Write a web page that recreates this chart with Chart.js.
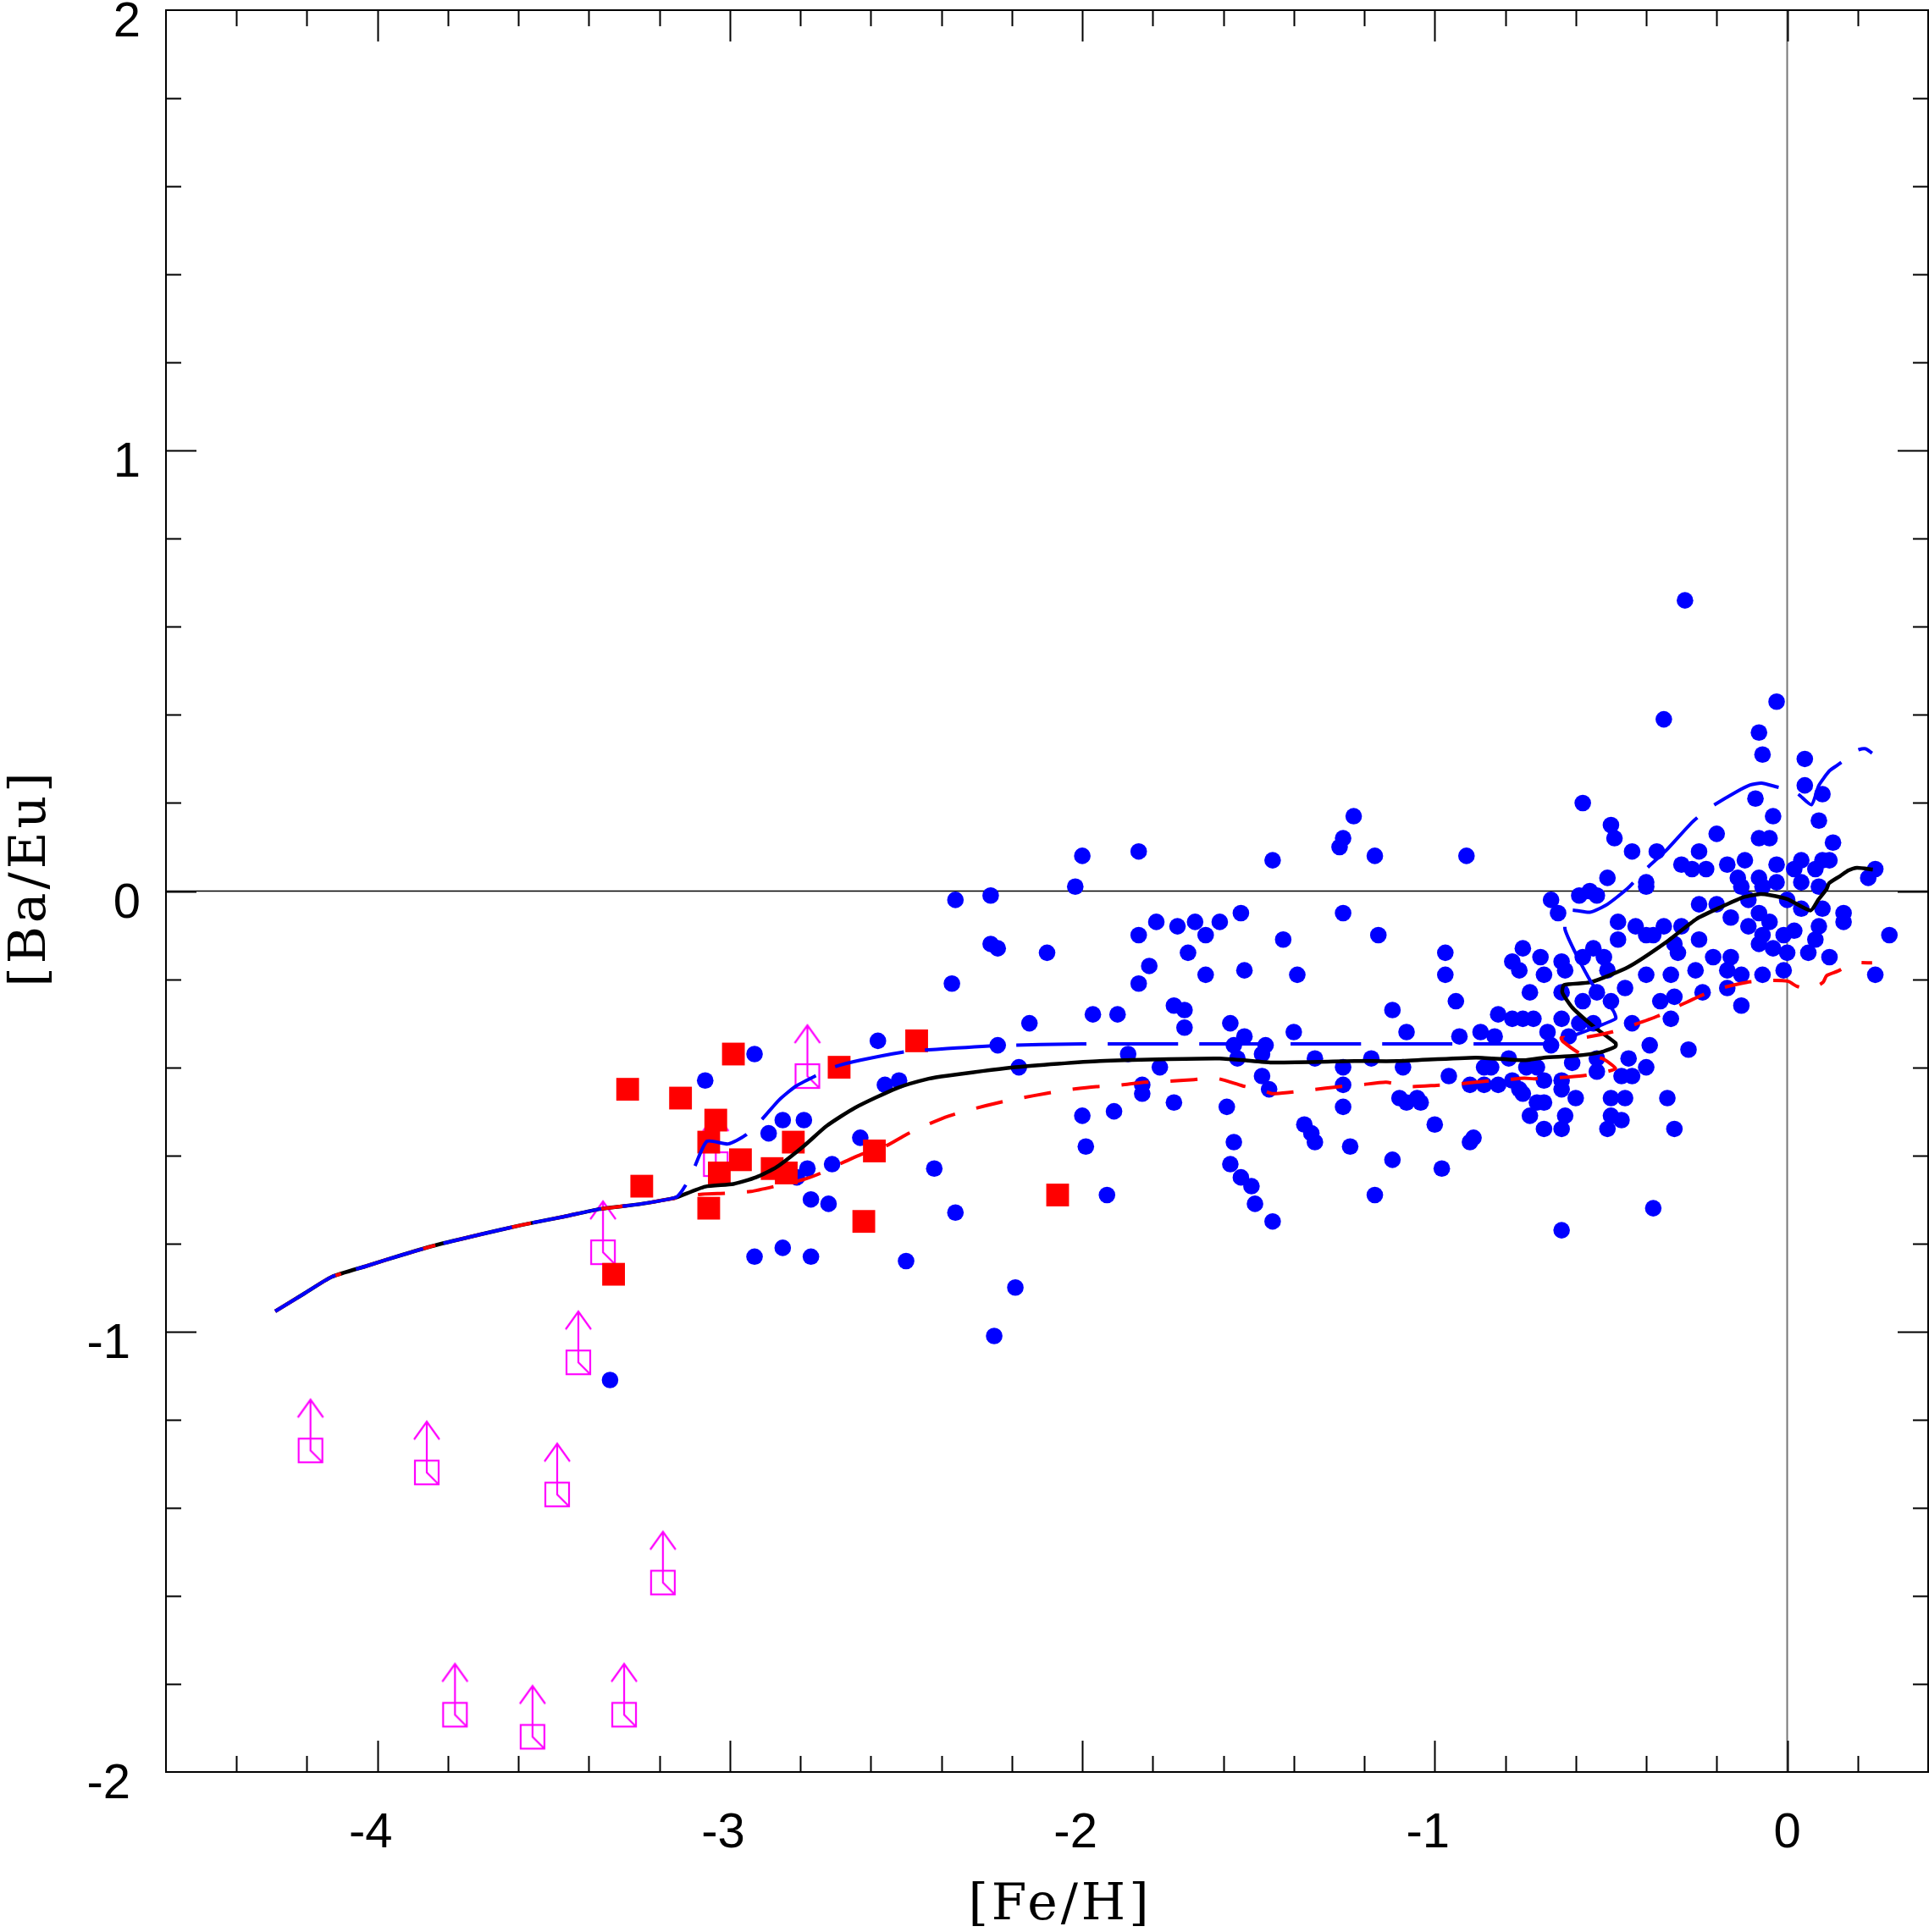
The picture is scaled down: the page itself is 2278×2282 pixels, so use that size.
<!DOCTYPE html>
<html lang="en">

<head>
    <meta charset="UTF-8">
    <title>[Ba/Eu] vs [Fe/H]</title>
    <script src="https://cdn.jsdelivr.net/npm/chart.js"></script>
    <style>
        html, body { margin: 0; padding: 0; background: #fff; }
        canvas { display: block; }
    </style>
</head>

<body>
    <canvas id="baEuChart" width="2278" height="2282"></canvas>

    <script>
        // axes
        const xMin = -4.6, xMax = 0.4;
        const yMin = -2, yMax = 2;
        const xTickValues = [-4, -3, -2, -1, 0];
        const xTickLabels = ['-4', '-3', '-2', '-1', '0'];
        const yTickValues = [-2, -1, 0, 1, 2];
        const yTickLabels = ['-2', '-1', '0', '1', '2'];
        const minorStep = 0.2;
        const xTitle = '[Fe/H]';
        const yTitle = '[Ba/Eu]';

        // observed stars [Fe/H, Ba/Eu]
        const blueStars = [
            [-0.29, 0.66], [-0.03, 0.43], [-0.35, 0.39], [-0.08, 0.36], [-0.07, 0.31], [0.05, 0.30], [-0.58, 0.20],
            [0.05, 0.24], [0.10, 0.22], [-0.09, 0.21], [-0.50, 0.15], [-0.04, 0.17], [0.09, 0.16], [-0.49, 0.12],
            [-0.20, 0.13], [-0.08, 0.12], [-0.05, 0.12], [0.13, 0.11], [-0.44, 0.09], [-0.37, 0.09], [-0.25, 0.09],
            [-0.30, 0.06], [-0.27, 0.05], [-0.23, 0.05], [-0.17, 0.06], [-0.12, 0.07], [-0.03, 0.06], [0.04, 0.07],
            [0.10, 0.07], [0.08, 0.05], [0.12, 0.07], [0.02, 0.05], [0.04, 0.02], [-0.51, 0.03], [-0.40, 0.02],
            [-0.40, 0.01], [-0.14, 0.03], [-0.08, 0.03], [-0.03, 0.02], [0.09, 0.01], [0.25, 0.05], [0.23, 0.03],
            [-0.67, -0.02], [-0.65, -0.05], [-0.59, -0.01], [-0.56, 0.00], [-0.54, -0.01], [-0.13, 0.01], [-0.07, 0.01],
            [-0.11, -0.02], [-0.25, -0.03], [-0.20, -0.03], [0.00, -0.02], [0.04, -0.04], [0.10, -0.04], [0.16, -0.05],
            [-0.16, -0.06], [-0.08, -0.05], [-0.48, -0.07], [-0.43, -0.08], [-0.40, -0.10], [-0.38, -0.10], [-0.35, -0.08],
            [-0.30, -0.08], [-0.05, -0.07], [-0.11, -0.08], [0.02, -0.09], [-0.01, -0.10], [0.09, -0.08], [0.16, -0.07],
            [0.29, -0.10], [-0.48, -0.11], [-0.32, -0.12], [-0.25, -0.11], [-0.07, -0.10], [-0.08, -0.12], [0.08, -0.11],
            [-0.75, -0.13], [-0.55, -0.13], [-0.58, -0.15], [-0.52, -0.15], [-0.31, -0.14], [-0.04, -0.13], [0.00, -0.14],
            [0.06, -0.14], [0.12, -0.15], [-0.70, -0.15], [-0.64, -0.16], [-0.21, -0.15], [-0.16, -0.15], [-0.76, -0.18],
            [-0.69, -0.19], [-0.63, -0.18], [-0.51, -0.18], [-0.40, -0.19], [-0.33, -0.19], [-0.26, -0.18], [-0.17, -0.18],
            [-0.13, -0.19], [-0.07, -0.19], [-0.01, -0.18], [0.25, -0.19],
            [-0.73, -0.23], [-0.64, -0.23], [-0.54, -0.23], [-0.46, -0.22], [-0.58, -0.25], [-0.50, -0.25], [-0.36, -0.25],
            [-0.32, -0.24], [-0.24, -0.23], [-0.17, -0.22], [-0.13, -0.26], [-0.75, -0.29], [-0.72, -0.29], [-0.64, -0.29],
            [-0.59, -0.30], [-0.55, -0.30], [-0.44, -0.30], [-0.33, -0.29], [-0.68, -0.32], [-0.62, -0.33], [-0.67, -0.35],
            [-0.39, -0.35], [-0.28, -0.36], [-0.45, -0.38], [-0.54, -0.38], [-0.74, -0.40], [-0.71, -0.40], [-0.61, -0.39],
            [-0.40, -0.40], [-0.54, -0.41], [-0.47, -0.42], [-0.44, -0.42], [-0.69, -0.43], [-0.64, -0.43], [-0.76, -0.45],
            [-0.64, -0.45], [-0.75, -0.46], [-0.71, -0.48], [-0.69, -0.48], [-0.60, -0.47], [-0.50, -0.47], [-0.46, -0.47],
            [-0.34, -0.47], [-0.73, -0.51], [-0.63, -0.51], [-0.50, -0.51], [-0.47, -0.52], [-0.69, -0.54], [-0.64, -0.54],
            [-0.51, -0.54], [-0.32, -0.54], [-0.38, -0.72], [-0.64, -0.77],
            [-1.84, 0.09], [-1.46, 0.07], [-1.23, 0.17], [-1.26, 0.12], [-1.27, 0.10], [-1.17, 0.08], [-0.91, 0.08],
            [-1.26, -0.05], [-1.55, -0.05], [-1.79, -0.07], [-1.73, -0.08], [-1.68, -0.07], [-1.61, -0.07], [-1.84, -0.10],
            [-1.65, -0.10], [-1.16, -0.10], [-1.43, -0.11], [-1.70, -0.14], [-0.97, -0.14], [-1.81, -0.17], [-1.65, -0.19],
            [-1.54, -0.18], [-1.39, -0.19], [-0.97, -0.19], [-1.84, -0.21], [-0.94, -0.25], [-1.74, -0.26], [-1.71, -0.27],
            [-1.90, -0.28], [-1.12, -0.27], [-1.71, -0.31], [-1.58, -0.30], [-1.40, -0.32], [-1.08, -0.32], [-0.93, -0.33],
            [-0.87, -0.32], [-0.83, -0.33], [-0.82, -0.28], [-0.78, -0.29], [-0.78, -0.16], [-1.54, -0.33], [-1.57, -0.35],
            [-1.48, -0.35], [-1.49, -0.37], [-1.87, -0.37], [-1.56, -0.38], [-1.34, -0.38], [-1.18, -0.38], [-0.79, -0.38],
            [-1.78, -0.40], [-1.26, -0.40], [-1.09, -0.40], [-0.86, -0.40], [-0.84, -0.40], [-1.49, -0.42], [-0.96, -0.42],
            [-1.83, -0.44], [-1.83, -0.46], [-1.26, -0.44], [-1.47, -0.45], [-0.90, -0.44], [-0.86, -0.44], [-0.82, -0.44],
            [-0.78, -0.43], [-1.74, -0.48], [-1.91, -0.50], [-1.59, -0.49], [-1.26, -0.49], [-1.10, -0.47], [-1.08, -0.48],
            [-1.05, -0.47], [-1.04, -0.48], [-1.37, -0.53], [-1.35, -0.55], [-1.34, -0.57], [-1.00, -0.53], [-0.89, -0.56],
            [-0.90, -0.57], [-1.57, -0.57], [-1.24, -0.58], [-1.12, -0.61], [-1.58, -0.62], [-0.98, -0.63], [-1.55, -0.65],
            [-1.52, -0.67], [-1.93, -0.69], [-1.17, -0.69], [-1.51, -0.71], [-1.46, -0.75],
            [-2.00, 0.08], [-2.02, 0.01], [-2.36, -0.02], [-2.26, -0.01], [-2.26, -0.12], [-2.24, -0.13], [-2.10, -0.14],
            [-2.37, -0.21], [-1.97, -0.28], [-2.15, -0.30], [-2.58, -0.34], [-2.24, -0.35], [-2.93, -0.37], [-3.07, -0.43],
            [-2.56, -0.44], [-2.52, -0.43], [-2.18, -0.40], [-2.00, -0.51], [-1.99, -0.58], [-2.42, -0.63], [-2.85, -0.52],
            [-2.79, -0.52], [-2.89, -0.55], [-2.63, -0.56], [-2.71, -0.62], [-2.78, -0.63],
            [-2.81, -0.65], [-2.77, -0.70], [-2.72, -0.71], [-2.93, -0.83], [-2.85, -0.81], [-2.77, -0.83], [-2.50, -0.84],
            [-3.34, -1.11], [-2.25, -1.01], [-2.19, -0.90], [-2.36, -0.73]
        ];

        const redStars = [
            [-3.29, -0.45], [-3.14, -0.47], [-2.99, -0.37], [-3.04, -0.52], [-3.06, -0.57], [-2.97, -0.61],
            [-3.03, -0.64], [-2.82, -0.57], [-2.88, -0.63], [-2.84, -0.64], [-2.69, -0.40], [-2.47, -0.34],
            [-2.59, -0.59], [-3.25, -0.67], [-3.06, -0.72], [-2.62, -0.75], [-3.33, -0.87], [-2.07, -0.69]
        ];

        // lower limits (box + arrow)
        const lowerLimits = [
            [-4.19, -1.27], [-3.86, -1.32], [-3.49, -1.37], [-3.19, -1.57], [-3.43, -1.07], [-3.36, -0.82],
            [-2.78, -0.42], [-3.04, -0.62], [-3.78, -1.87], [-3.56, -1.92], [-3.30, -1.87]
        ];

        // model curves, they share the low metallicity part
        const modelStart = [
            [-4.29, -0.954], [-4.21, -0.915], [-4.13, -0.876], [-4.03, -0.851], [-3.93, -0.826], [-3.83, -0.803],
            [-3.71, -0.780], [-3.59, -0.758], [-3.47, -0.739], [-3.37, -0.722], [-3.25, -0.710], [-3.17, -0.699]
        ];
        const blackModel = modelStart.concat([
            [-3.15, -0.695], [-3.07, -0.671], [-2.99, -0.665], [-2.926, -0.65], [-2.868, -0.627], [-2.789, -0.578],
            [-2.725, -0.533], [-2.645, -0.492], [-2.525, -0.447], [-2.436, -0.426], [-2.381, -0.419], [-2.19, -0.40],
            [-1.95, -0.386], [-1.611, -0.38], [-1.467, -0.389], [-1.227, -0.386], [-1.107, -0.386], [-0.883, -0.378],
            [-0.747, -0.384], [-0.69, -0.378], [-0.602, -0.374], [-0.53, -0.366], [-0.487, -0.353], [-0.487, -0.345],
            [-0.547, -0.309], [-0.609, -0.265], [-0.638, -0.23], [-0.633, -0.213], [-0.558, -0.207], [-0.45, -0.172],
            [-0.345, -0.117], [-0.257, -0.063], [-0.193, -0.038], [-0.128, -0.015], [-0.08, -0.007], [-0.049, -0.009],
            [0.0, -0.018], [0.066, -0.044], [0.088, -0.02], [0.112, 0.005], [0.119, 0.018], [0.15, 0.034],
            [0.174, 0.047], [0.198, 0.053], [0.243, 0.049]
        ]);
        const redModel = modelStart.concat([
            [-3.077, -0.688], [-3.013, -0.686], [-2.94, -0.682], [-2.865, -0.669], [-2.792, -0.655], [-2.744, -0.641],
            [-2.7, -0.624], [-2.628, -0.598], [-2.556, -0.578], [-2.5, -0.553], [-2.445, -0.532], [-2.38, -0.511],
            [-2.312, -0.495], [-2.236, -0.48], [-2.176, -0.47], [-2.099, -0.459], [-2.039, -0.451], [-1.96, -0.444],
            [-1.9, -0.441], [-1.823, -0.434], [-1.762, -0.432], [-1.683, -0.428], [-1.62, -0.425], [-1.546, -0.442],
            [-1.486, -0.453], [-1.46, -0.46], [-1.412, -0.457], [-1.349, -0.451], [-1.27, -0.444], [-1.21, -0.44],
            [-1.138, -0.434], [-1.073, -0.444], [-0.994, -0.441], [-0.934, -0.438], [-0.859, -0.432], [-0.794, -0.428],
            [-0.746, -0.425], [-0.718, -0.426], [-0.655, -0.424], [-0.578, -0.419], [-0.525, -0.412], [-0.487, -0.403],
            [-0.525, -0.38], [-0.585, -0.37], [-0.637, -0.341], [-0.641, -0.333], [-0.573, -0.332], [-0.498, -0.32],
            [-0.44, -0.305], [-0.368, -0.284], [-0.308, -0.261], [-0.241, -0.236], [-0.181, -0.219], [-0.114, -0.207],
            [-0.045, -0.203], [0.003, -0.205], [0.027, -0.216], [0.06, -0.222], [0.083, -0.216], [0.102, -0.207],
            [0.112, -0.192], [0.143, -0.182], [0.19, -0.163], [0.241, -0.163]
        ]);
        const blueModel = modelStart.concat([
            [-3.15, -0.694], [-3.128, -0.671], [-3.1, -0.626], [-3.065, -0.568], [-3.005, -0.574], [-2.957, -0.555],
            [-2.911, -0.52], [-2.86, -0.474], [-2.813, -0.443], [-2.758, -0.42], [-2.703, -0.399], [-2.63, -0.384],
            [-2.513, -0.366], [-2.448, -0.361], [-2.24, -0.351], [-2.0, -0.347], [-1.5, -0.347], [-1.0, -0.347],
            [-0.7, -0.347], [-0.66, -0.346], [-0.638, -0.338], [-0.487, -0.29], [-0.494, -0.271], [-0.556, -0.207],
            [-0.63, -0.088], [-0.62, -0.044], [-0.56, -0.048], [-0.51, -0.03], [-0.45, 0.008], [-0.405, 0.047],
            [-0.345, 0.091], [-0.27, 0.156], [-0.22, 0.189], [-0.145, 0.225], [-0.105, 0.241], [-0.073, 0.245],
            [-0.032, 0.237], [0.0, 0.231], [0.03, 0.221], [0.069, 0.196], [0.09, 0.24], [0.12, 0.273], [0.143, 0.286],
            [0.163, 0.298], [0.184, 0.313], [0.203, 0.321], [0.223, 0.323], [0.241, 0.313]
        ]);

        // solar reference lines
        const zeroLineH = [[xMin, 0], [xMax, 0]];
        const zeroLineV = [[0, yMin], [0, yMax]];

        const toXY = pts => pts.map(([x, y]) => ({ x: x, y: y }));

        // box with upward arrow, centred on the value
        function limitSymbol() {
            const c = document.createElement('canvas');
            c.width = 44;
            c.height = 140;
            const g = c.getContext('2d');
            const cx = 22, cy = 70, h = 14, stem = 60;
            g.strokeStyle = '#ff00ff';
            g.lineWidth = 2.2;
            g.strokeRect(cx - h, cy - h, 2 * h, 2 * h);
            g.beginPath();
            g.moveTo(cx + h, cy + h);
            g.lineTo(cx, cy);
            g.lineTo(cx, cy - stem);
            g.moveTo(cx - 15, cy - stem + 21);
            g.lineTo(cx, cy - stem);
            g.lineTo(cx + 15, cy - stem + 21);
            g.stroke();
            return c;
        }

        const tickFont = '58px "Liberation Sans", Arial, sans-serif';
        const titleFont = '60px "DejaVu Serif", serif';

        // frame, inward ticks on all sides, labels and titles
        const framePlugin = {
            id: 'framePlugin',
            afterDraw(chart) {
                const ctx = chart.ctx;
                const a = chart.chartArea;
                const xs = chart.scales.x;
                const ys = chart.scales.y;
                ctx.save();
                ctx.strokeStyle = '#000';
                ctx.lineWidth = 2;
                ctx.strokeRect(a.left, a.top, a.right - a.left, a.bottom - a.top);

                ctx.beginPath();
                const nx = Math.round((xMax - xMin) / minorStep);
                for (let i = 1; i < nx; i++) {
                    const v = xMin + i * minorStep;
                    const major = Math.abs(v - Math.round(v)) < 1e-6;
                    const len = major ? 37 : 19;
                    const px = Math.round(xs.getPixelForValue(v)) + 0.5;
                    ctx.moveTo(px, a.bottom); ctx.lineTo(px, a.bottom - len);
                    ctx.moveTo(px, a.top); ctx.lineTo(px, a.top + len);
                }
                const ny = Math.round((yMax - yMin) / minorStep);
                for (let i = 1; i < ny; i++) {
                    const v = yMin + i * minorStep;
                    const major = Math.abs(v - Math.round(v)) < 1e-6;
                    const len = major ? 36 : 18;
                    const py = Math.round(ys.getPixelForValue(v)) + 0.5;
                    ctx.moveTo(a.left, py); ctx.lineTo(a.left + len, py);
                    ctx.moveTo(a.right, py); ctx.lineTo(a.right - len, py);
                }
                ctx.lineWidth = 2;
                ctx.stroke();

                ctx.fillStyle = '#000';
                ctx.font = tickFont;
                ctx.textBaseline = 'alphabetic';
                ctx.textAlign = 'center';
                xTickValues.forEach((v, i) => {
                    const shift = xTickLabels[i].startsWith('-') ? -8 : 0;
                    ctx.fillText(xTickLabels[i], xs.getPixelForValue(v) + shift, a.bottom + 89);
                });
                ctx.textAlign = 'right';
                yTickValues.forEach((v, i) => {
                    const right = yTickLabels[i].startsWith('-') ? 154 : 166;
                    ctx.fillText(yTickLabels[i], right, ys.getPixelForValue(v) + 31);
                });

                ctx.font = titleFont;
                ctx.letterSpacing = '4px';
                ctx.textAlign = 'center';
                ctx.fillText(xTitle, 1252, 2267);
                ctx.translate(53, 1037);
                ctx.rotate(-Math.PI / 2);
                ctx.fillText(yTitle, 0, 0);
                ctx.restore();
            }
        };

        const config = {
            type: 'scatter',
            data: {
                datasets: [
                    {
                        data: toXY(zeroLineH), showLine: true, borderColor: '#000', borderWidth: 1.5,
                        pointRadius: 0, order: 20
                    },
                    {
                        data: toXY(zeroLineV), showLine: true, borderColor: '#777', borderWidth: 2,
                        pointRadius: 0, order: 19
                    },
                    {
                        data: toXY(lowerLimits), pointStyle: limitSymbol(), pointRadius: 12, order: 10
                    },
                    {
                        data: toXY(blueStars), pointStyle: 'circle', pointRadius: 9.8, pointBorderWidth: 0,
                        backgroundColor: '#0000ff', borderColor: '#0000ff', order: 9
                    },
                    {
                        data: toXY(redStars), pointStyle: 'rect', pointRadius: 19, pointBorderWidth: 0,
                        backgroundColor: '#ff0000', borderColor: '#ff0000', order: 8
                    },
                    {
                        data: toXY(blackModel), showLine: true, borderColor: '#000', borderWidth: 4.5,
                        pointRadius: 0, tension: 0.2, order: 4
                    },
                    {
                        data: toXY(redModel), showLine: true, borderColor: '#ff0000', borderWidth: 4,
                        borderDash: [32, 26], pointRadius: 0, tension: 0.2, order: 3
                    },
                    {
                        data: toXY(blueModel), showLine: true, borderColor: '#0000ff', borderWidth: 4,
                        borderDash: [83, 25], pointRadius: 0, tension: 0.2, order: 2
                    }
                ]
            },
            options: {
                responsive: false,
                devicePixelRatio: 1,
                animation: false,
                layout: { autoPadding: false, padding: { left: 0, right: 1, top: 12, bottom: 0 } },
                scales: {
                    x: {
                        type: 'linear', min: xMin, max: xMax,
                        grid: { display: false }, border: { display: false },
                        ticks: { display: false },
                        afterFit: function (scale) { scale.height = 189; }
                    },
                    y: {
                        type: 'linear', min: yMin, max: yMax,
                        grid: { display: false }, border: { display: false },
                        ticks: { display: false },
                        afterFit: function (scale) { scale.width = 196; }
                    }
                },
                plugins: {
                    legend: { display: false },
                    tooltip: { enabled: false }
                }
            },
            plugins: [framePlugin]
        };

        window.onload = function () {
            const ctx = document.getElementById('baEuChart').getContext('2d');
            window.baEuChart = new Chart(ctx, config);
        };
    </script>
</body>

</html>
